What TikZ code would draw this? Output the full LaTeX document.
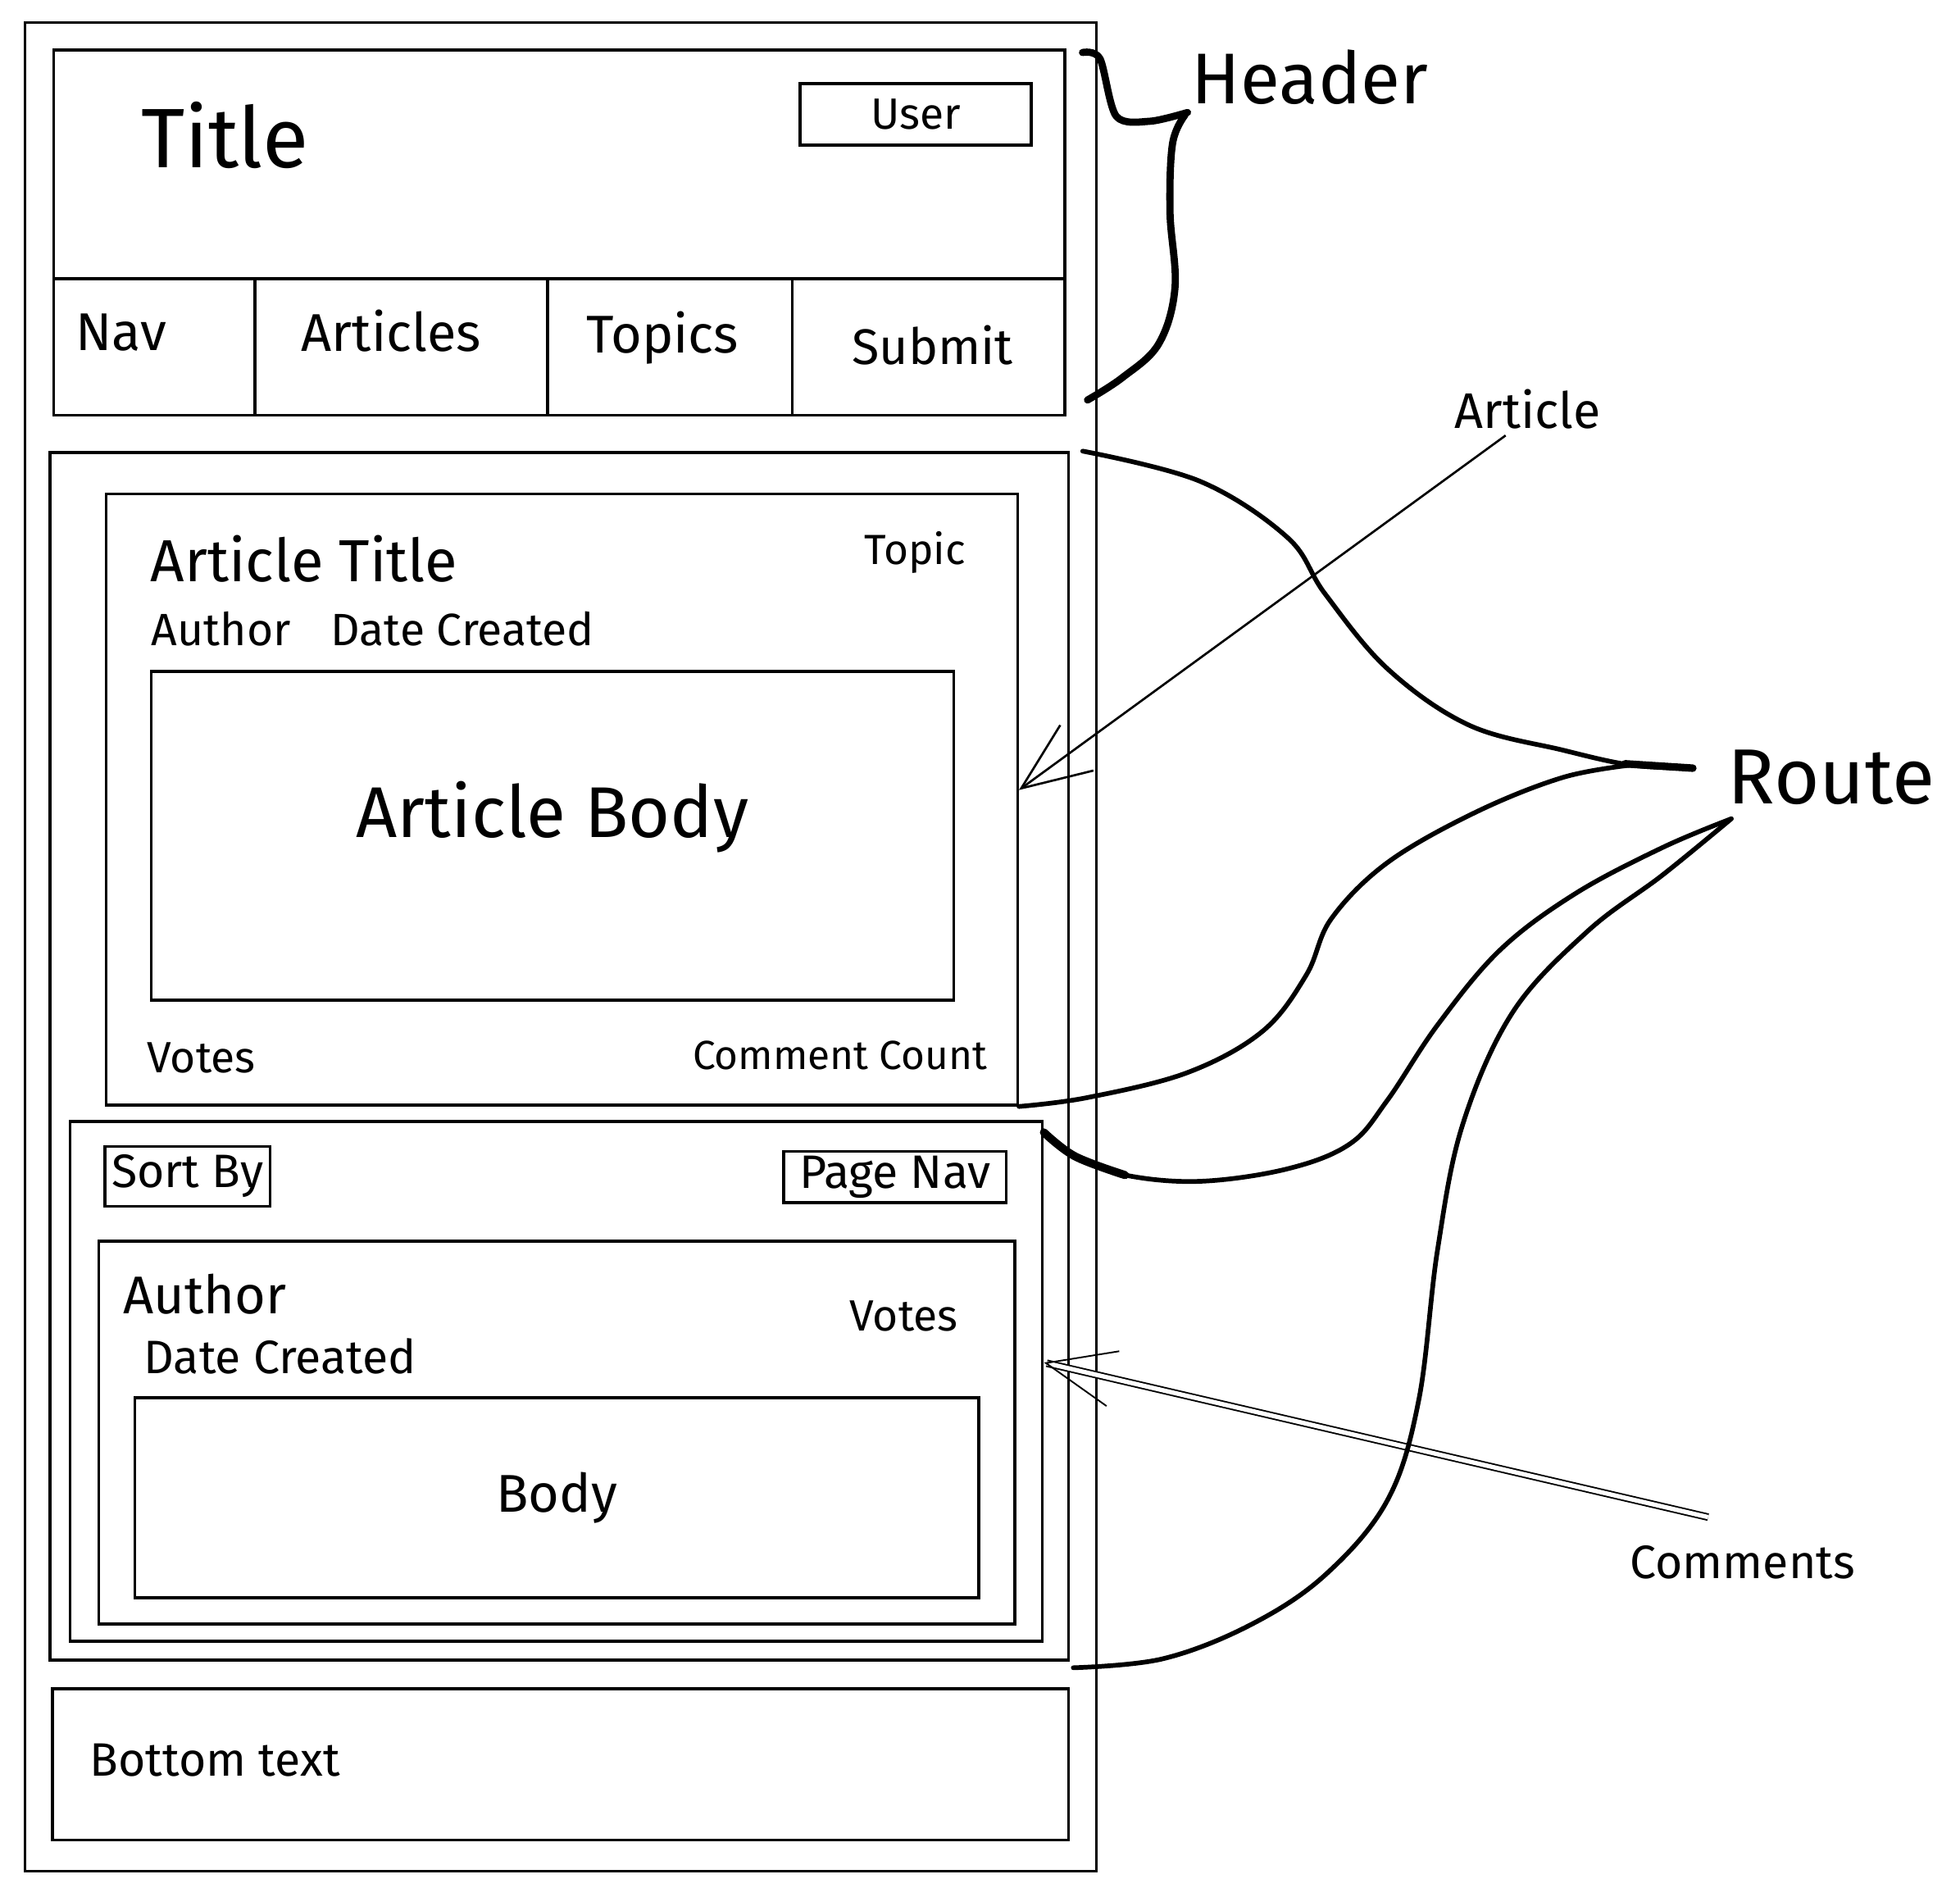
\documentclass[tikz,border=0pt]{standalone}
\usepackage{fontspec}
\setmainfont{Fira Sans}
\usetikzlibrary{positioning,arrows.meta,fit}
\newcommand{\sketchfs}[1]{\fontsize{#1}{#1}\selectfont}
\tikzset{
  box/.style={draw, line width=0.9pt, inner sep=0pt},
  txt/.style={inner sep=0pt, font=\sketchfs{#1}},
  txt/.default=14,
  curve/.style={line width=1.5pt, line cap=round, line join=round},
  pointer/.style={line width=0.7pt, -{Straight Barb[length=22pt,width=18pt]}},
}

\begin{document}
\begin{tikzpicture}[x=0.4pt, y=-0.4pt]
\useasboundingbox (0,0) rectangle (1568,1517);

% page frame
\node[box, line width=0.7pt, fit={(20,18) (877,1497)}] (frame) {};

% header
\node[box, fit={(43,40) (852,332)}] (header) {};
\node[box, fit={(640,67) (825,116)}] (user) {};
\node[txt=14] at (user.center) {User};
\node[txt=27] (title) at (180,108) {Title};
\node[box, fit={(43,223) (204,332)}] (navA) {};
\node[box, fit={(204,223) (438,332)}] (navB) {};
\node[box, fit={(438,223) (634,332)}] (navC) {};
\node[box, fit={(634,223) (852,332)}] (navD) {};
\node[txt=17] at (97,266) {Nav};
\node[txt=17] at (313,265) {Articles};
\node[txt=17] at (530,270) {Topics};
\node[txt=16] at (746,276) {Submit};

% route area
\node[box, fit={(40,362) (855,1328)}] (main) {};

% article
\node[box, fit={(85,395) (814,884)}] (article) {};
\node[txt=19] at (243,447) {Article Title};
\node[txt=13.5] at (732,442) {Topic};
\node[txt=14.5] at (177,503) {Author};
\node[txt=14.5] at (370,503) {Date Created};
\node[box, fit={(121,537) (763,800)}] (artbody) {};
\node[txt=23] at ([yshift=6pt]artbody.center) {Article Body};
\node[txt=14] at (161,846) {Votes};
\node[txt=13] at (672,844) {Comment Count};

% comments
\node[box, fit={(56,897) (834,1313)}] (comments) {};
\node[box, fit={(84,917) (216,965)}] (sortby) {};
\node[txt=15] at (sortby.center) {Sort By};
\node[box, fit={(627,921) (805,962)}] (pagenav) {};
\node[txt=15] at (pagenav.center) {Page Nav};
\node[box, fit={(79,993) (812,1299)}] (comment) {};
\node[txt=17] at (164,1035) {Author};
\node[txt=14] at (723,1053) {Votes};
\node[txt=15] at (224,1085) {Date Created};
\node[box, fit={(108,1118) (783,1278)}] (body) {};
\node[txt=17] at (body.center) {Body};

% footer
\node[box, fit={(42,1351) (855,1472)}] (footer) {};
\node[txt=15] at (172,1408) {Bottom text};

% annotations
\node[txt=23] (hdrlbl) at (1048,62) {Header};
\node[txt=16] (artlbl) at (1222,327) {Article};
\node[txt=25] (routelbl) at (1465,622) {Route};
\node[txt=15] (comlbl) at (1394,1250) {Comments};

% header brace
\draw[curve, line width=2.3pt] plot[smooth, tension=0.5] coordinates
  {(866,42) (880,47) (893,93) (920,97) (950,90)};
\draw[curve, line width=2.3pt] plot[smooth, tension=0.6] coordinates
  {(948,92) (938,115) (936,170) (940,230) (927,275) (898,302) (870,320)};

% pointers
\draw[pointer] ([xshift=-7pt,yshift=-2pt]artlbl.south) -- ([yshift=3pt]article.east);
\draw[pointer, double, double distance=1.4pt, line width=0.5pt]
  ([xshift=-11pt,yshift=9pt]comlbl.north) -- ([yshift=6pt]comments.east);

% route curves
\draw[curve] plot[smooth, tension=0.6] coordinates
  {([xshift=4pt]main.north east) (960,385) (1030,430) (1060,475) (1110,535)
   (1175,580) (1250,600) (1305,612) ([xshift=-11pt,yshift=3pt]routelbl.west)};
\draw[curve, line width=2.4pt] (1300,611) -- ([xshift=-11pt,yshift=3pt]routelbl.west);
\draw[curve] plot[smooth, tension=0.6] coordinates
  {(article.south east) (870,878) (950,858) (1010,825) (1045,780) (1065,735)
   (1110,690) (1180,650) (1250,622) (1305,612)};
\draw[curve] plot[smooth, tension=0.6] coordinates
  {([yshift=-4pt]comments.north east) (860,925) (900,940) (960,945) (1030,935)
   (1080,915) (1110,880) (1150,820) (1200,760) (1260,715) (1330,678) (1385,655)};
\draw[curve, line width=2.6pt] plot[smooth, tension=0.6] coordinates
  {([yshift=-4pt]comments.north east) (860,925) (900,940)};
\draw[curve] plot[smooth, tension=0.6] coordinates
  {([xshift=1pt,yshift=-2pt]main.south east) (930,1327) (1000,1300) (1060,1260)
   (1110,1200) (1135,1120) (1150,1000) (1170,900) (1210,810) (1270,745)
   (1330,700) (1385,655)};
\end{tikzpicture}
\end{document}
